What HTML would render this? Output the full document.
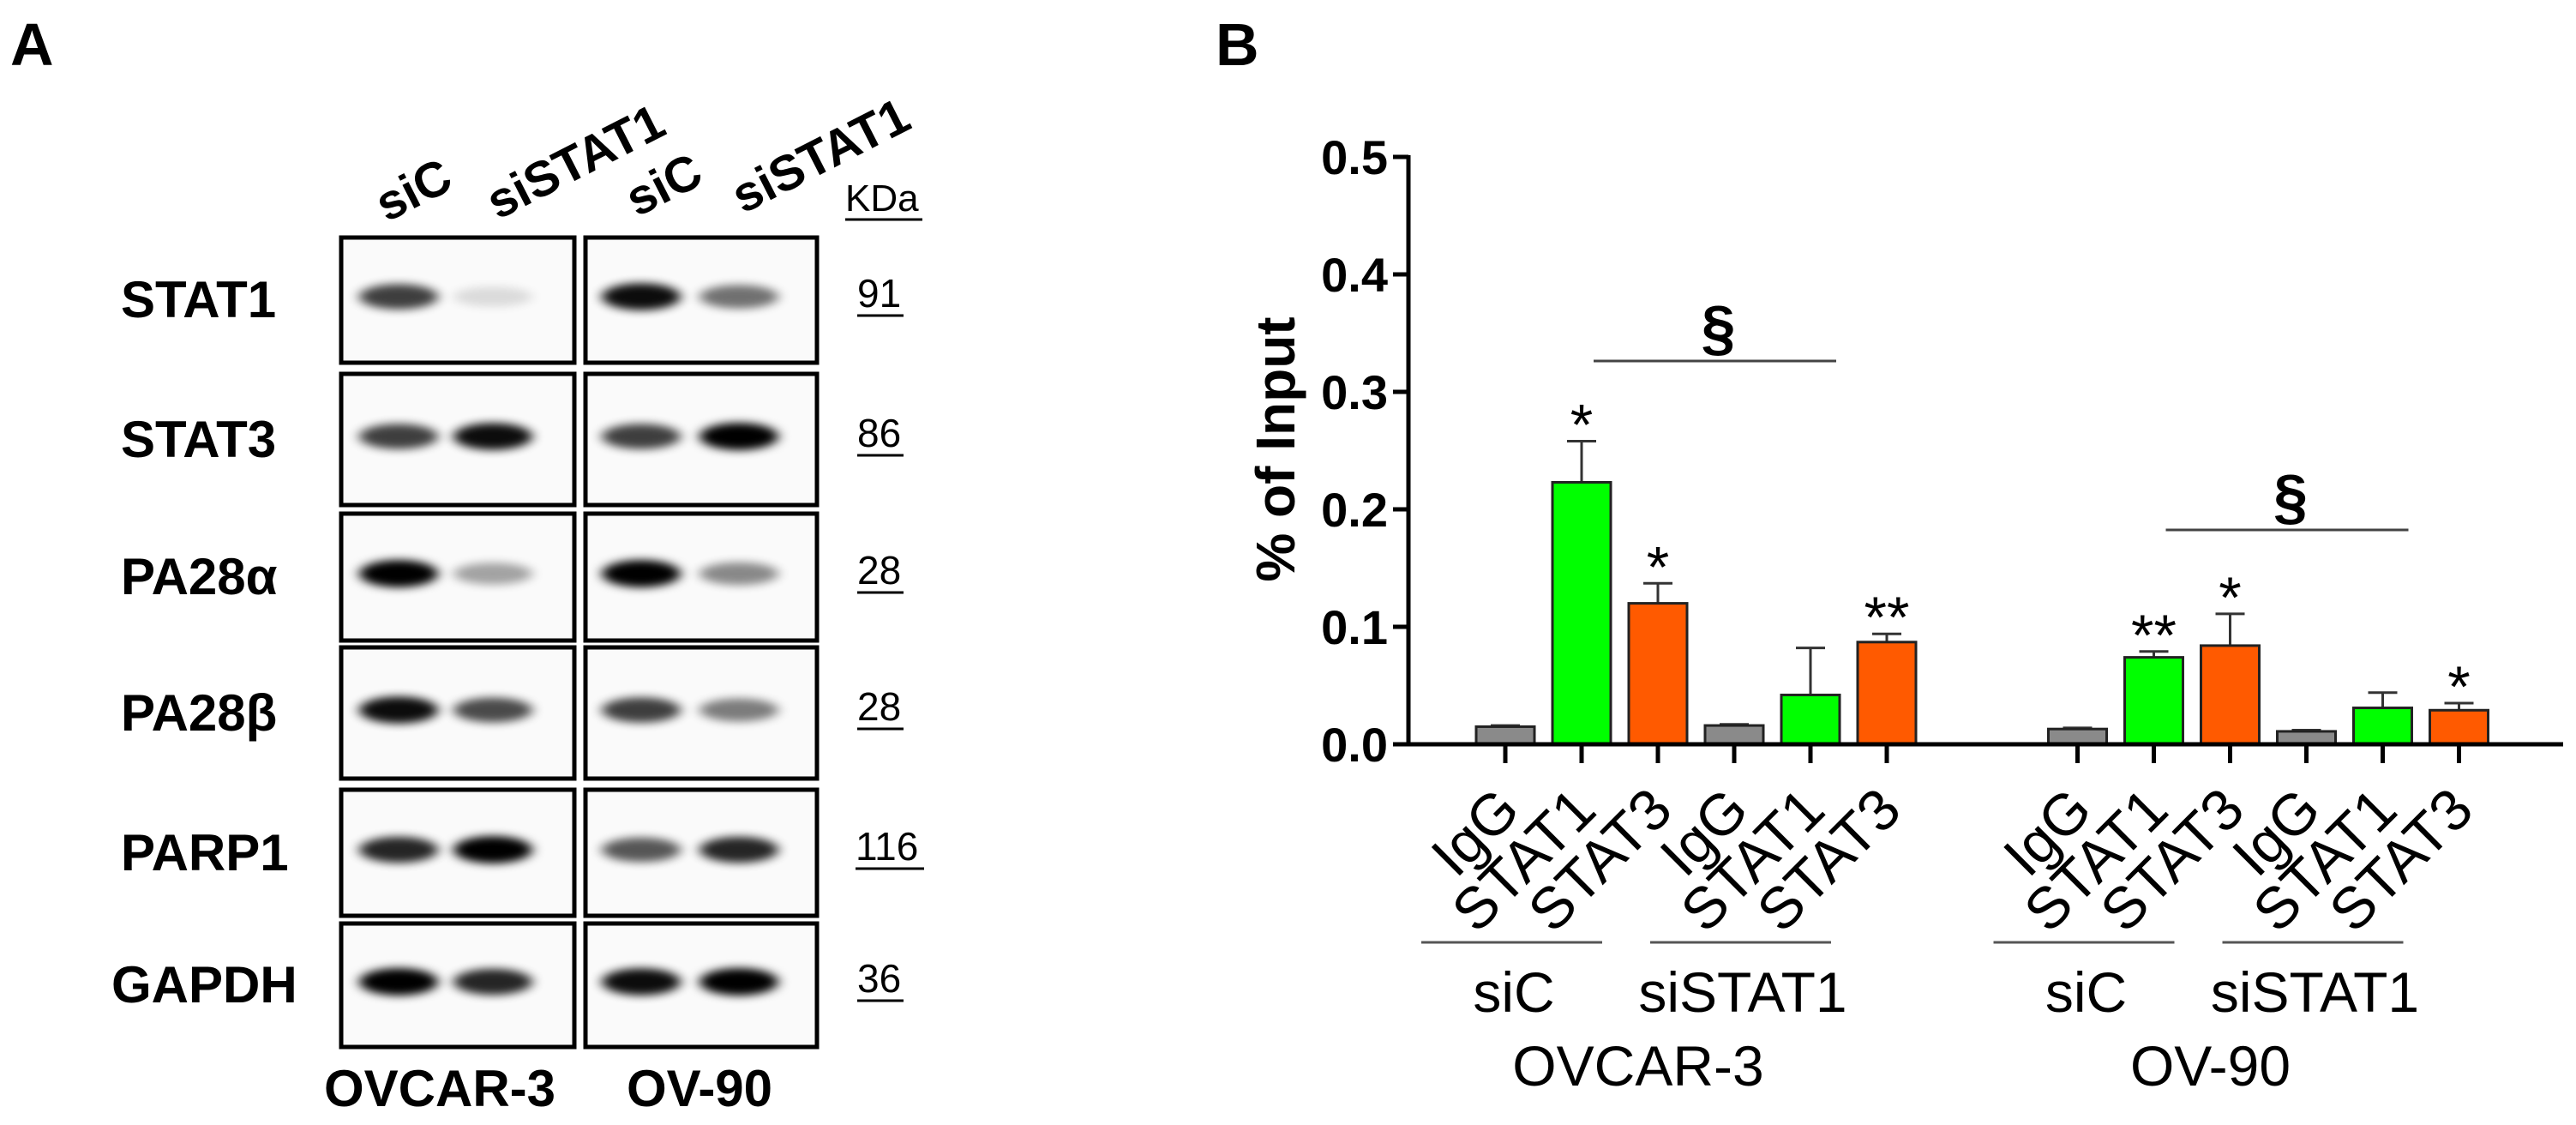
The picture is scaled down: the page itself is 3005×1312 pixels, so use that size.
<!DOCTYPE html>
<html><head><meta charset="utf-8"><style>
html,body{margin:0;padding:0;background:#fff;}
svg{display:block;font-family:"Liberation Sans",Arial,sans-serif;}
</style></head><body>
<svg id="fig" width="3005" height="1312" viewBox="0 0 3005 1312" xmlns="http://www.w3.org/2000/svg">
<defs>
<filter id="blur" x="-50%" y="-100%" width="200%" height="300%"><feGaussianBlur stdDeviation="7 5"/></filter>
<filter id="haze" x="-50%" y="-50%" width="200%" height="200%"><feGaussianBlur stdDeviation="25"/></filter>
</defs>
<g id="panelA">
<text x="12" y="76" font-size="70" font-weight="bold">A</text>
<g id="blots"></g>
</g>
<g id="panelB">
<text x="1418" y="76" font-size="70" font-weight="bold">B</text>
<g id="chart"></g>
</g>
</svg>
<script>
// ---------- Panel B data ----------
const groups = ["OVCAR-3", "OV-90"];
const conditions = ["siC", "siSTAT1"];
const antibodies = ["IgG", "STAT1", "STAT3"];
const meanOVCAR3 = [0.015, 0.223, 0.120, 0.016, 0.042, 0.087];
const errOVCAR3  = [0.016, 0.258, 0.137, 0.017, 0.082, 0.094];
const meanOV90   = [0.013, 0.074, 0.084, 0.011, 0.031, 0.029];
const errOV90    = [0.014, 0.079, 0.111, 0.012, 0.044, 0.035];
const starsOVCAR3 = ["", "*", "*", "", "", "**"];
const starsOV90   = ["", "**", "*", "", "", "*"];
const yTicks = [0.0, 0.1, 0.2, 0.3, 0.4, 0.5];
const yTickLabels = ["0.0", "0.1", "0.2", "0.3", "0.4", "0.5"];

// ---------- Panel A data ----------
const proteins = ["STAT1", "STAT3", "PA28α", "PA28β", "PARP1", "GAPDH"];
const kda = ["91", "86", "28", "28", "116", "36"];
// band intensities per row: [OVCAR-3 siC, OVCAR-3 siSTAT1, OV-90 siC, OV-90 siSTAT1]
const bandIntensity = [
  [0.75, 0.12, 0.95, 0.55],
  [0.75, 0.95, 0.75, 1.0],
  [1.0, 0.35, 1.0, 0.45],
  [0.95, 0.7, 0.75, 0.5],
  [0.85, 1.0, 0.65, 0.85],
  [1.0, 0.85, 0.95, 1.0]
];

const NS = "http://www.w3.org/2000/svg";
function mk(tag, attrs, parent, txt){
  const e = document.createElementNS(NS, tag);
  for (const k in attrs) e.setAttribute(k, attrs[k]);
  if (txt !== undefined) e.textContent = txt;
  parent.appendChild(e);
  return e;
}

// ---------- Panel B drawing ----------
const chart = document.getElementById("chart");
const axX = 1643, y0 = 868, pxPerUnit = 1370;
const yScale = v => y0 - v * pxPerUnit;
const x0 = 1756, step = 89, groupOffset = 7.5;
const xScale = (g, i) => x0 + (g * groupOffset + i) * step;
const barW = 68;
const colors = {IgG: "#8a8a8a", STAT1: "#00ff00", STAT3: "#ff5a00"};

// axes
let e = mk("line", {x1: axX, y1: yScale(0.5) - 2, x2: axX, y2: y0 + 2, stroke: "#000", "stroke-width": 5}, chart);


yTicks.forEach((t, k) => {
  const tl = mk("line", {x1: axX - 18, y1: yScale(t), x2: axX, y2: yScale(t), stroke: "#000", "stroke-width": 5}, chart);
  
  
  const lb = mk("text", {x: axX - 24, y: yScale(t) + 20, "font-size": 56, "font-weight": "bold", "text-anchor": "end"}, chart, yTickLabels[k]);
  
  
});
e = mk("text", {x: 1510, y: 524, "font-size": 64, "font-weight": "bold", "text-anchor": "middle", transform: "rotate(-90 1510 524)"}, chart, "% of Input");



const means = [meanOVCAR3, meanOV90], errs = [errOVCAR3, errOV90], stars = [starsOVCAR3, starsOV90];
means.forEach((arr, g) => {
  arr.forEach((v, i) => {
    const ab = antibodies[i % 3];
    const cx = xScale(g, i);
    const eb = mk("line", {x1: cx, y1: yScale(errs[g][i]), x2: cx, y2: yScale(v), stroke: "#333", "stroke-width": 3}, chart);
    
    
    const ec = mk("line", {x1: cx - 17, y1: yScale(errs[g][i]), x2: cx + 17, y2: yScale(errs[g][i]), stroke: "#333", "stroke-width": 3}, chart);
    
    
    const b = mk("rect", {x: cx - barW / 2, y: yScale(v), width: barW, height: y0 - yScale(v), fill: colors[ab], stroke: "#222", "stroke-width": 3}, chart);
    
    
    if (stars[g][i]) {
      const s = mk("text", {x: cx, y: yScale(errs[g][i]) + 4, "font-size": 68, "text-anchor": "middle"}, chart, stars[g][i]);
      
      
    }
    const tk = mk("line", {x1: cx, y1: y0, x2: cx, y2: y0 + 22, stroke: "#000", "stroke-width": 5}, chart);
    
    
    const lx = cx + 20, ly = 948;
    const xl = mk("text", {x: lx, y: ly, "font-size": 68, "text-anchor": "end", transform: `rotate(-45 ${lx} ${ly})`}, chart, ab);
    
    
  });
  conditions.forEach((c, ci) => {
    const t0 = xScale(g, ci * 3);
    const gl = mk("line", {x1: t0 - 98, y1: 1099, x2: t0 + 113, y2: 1099, stroke: "#555", "stroke-width": 3}, chart);
    
    
    const ct = mk("text", {x: t0 + (ci === 0 ? 10 : 10), y: 1180, "font-size": 66, "text-anchor": "middle"}, chart, c);
    
    
  });
  const gt = mk("text", {x: xScale(g, 0) + 155, y: 1266, "font-size": 66, "text-anchor": "middle"}, chart, groups[g]);
  
  
  // section sign comparing siC STAT1 vs siSTAT1 STAT1
  const a = xScale(g, 1) + 14, bb = xScale(g, 4) + 30;
  const sy = g === 0 ? 421 : 618;
  const sl = mk("line", {x1: a, y1: sy, x2: bb, y2: sy, stroke: "#444", "stroke-width": 3}, chart);
  
  
  const ss = mk("text", {x: (a + bb) / 2 + 4, y: sy - 14, "font-size": 72, "font-weight": "bold", "text-anchor": "middle"}, chart, "§");
  
  
});
e = mk("line", {x1: axX - 18, y1: y0, x2: 2990, y2: y0, stroke: "#000", "stroke-width": 5}, chart);



// ---------- Panel A drawing ----------
const blots = document.getElementById("blots");
const boxTop = [277, 436, 599, 755, 921, 1077];
const boxBot = [423, 589, 747, 908, 1068, 1221];
const boxX = [[398, 670], [683, 953]];
const laneX = [465, 575, 748, 862];
proteins.forEach((p, r) => {
  const lab = mk("text", {x: r === 5 ? 130 : 141, y: Math.round((boxTop[r] + boxBot[r]) / 2) + 20, "font-size": 60, "font-weight": "bold"}, blots, p);
  
  
  boxX.forEach((bx, c) => {
    const bxr = mk("rect", {x: bx[0], y: boxTop[r], width: bx[1] - bx[0], height: boxBot[r] - boxTop[r], fill: "#fafafa", stroke: "#000", "stroke-width": 5}, blots);
    
    
  });
  const by = Math.round((boxTop[r] + boxBot[r]) / 2) - 4;
  bandIntensity[r].forEach((v, l) => {
    const band = mk("ellipse", {cx: laneX[l], cy: by, rx: 46, ry: 11 + 5 * v, fill: "#000", opacity: v, filter: "url(#blur)"}, blots);
    
    
  });
  const kd = mk("text", {x: r === 4 ? 998 : 1000, y: by + 12, "font-size": 46}, blots, kda[r]);
  
  
  const ul = mk("line", {x1: r === 4 ? 998 : 1000, y1: by + 22, x2: (r === 4 ? 998 : 1000) + (kda[r].length === 3 ? 80 : 54), y2: by + 22, stroke: "#000", "stroke-width": 3}, blots);
  
  
});
e = mk("text", {x: 986, y: 246, "font-size": 44}, blots, "KDa");


e = mk("line", {x1: 986, y1: 256, x2: 1076, y2: 256, stroke: "#000", "stroke-width": 3}, blots);


const colHeaders = ["siC", "siSTAT1", "siC", "siSTAT1"];
const headerPos = [[483, 223], [672, 190], [775, 217], [958, 183]];
colHeaders.forEach((h, i) => {
  const [hx, hy] = headerPos[i];
  const t = mk("text", {x: hx, y: hy + 18, "font-size": 58, "font-weight": "bold", "text-anchor": "middle", transform: `rotate(-27 ${hx} ${hy})`}, blots, h);
  
  
});
e = mk("text", {x: 513, y: 1290, "font-size": 60, "font-weight": "bold", "text-anchor": "middle"}, blots, "OVCAR-3");


e = mk("text", {x: 816, y: 1290, "font-size": 60, "font-weight": "bold", "text-anchor": "middle"}, blots, "OV-90");


</script>
</body></html>
